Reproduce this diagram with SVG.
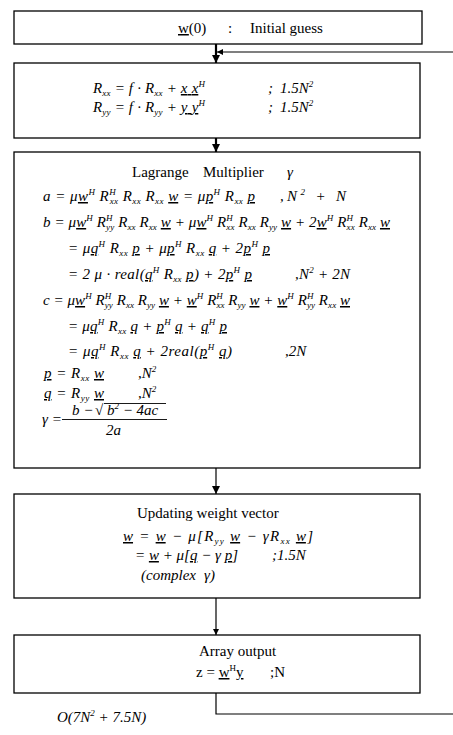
<svg xmlns="http://www.w3.org/2000/svg" width="453" height="735" viewBox="0 0 453 735">
<style>
text{font-family:"Liberation Serif","Times New Roman",serif;font-size:14px;fill:#000}
.m{font-style:italic;font-size:15px}
.n{font-size:15px}
.u{text-decoration:underline}
.sp{font-size:9px;baseline-shift:6px}
.sb{font-size:9px;baseline-shift:-3px}
.box{fill:#fff;stroke:#000;stroke-width:1.3}
.ln{fill:none;stroke:#000;stroke-width:1.2}
.bold{fill:none;stroke:#000;stroke-width:2.2}
.th{fill:none;stroke:#000;stroke-width:0.9}
</style>
<defs>
<marker id="ah" viewBox="0 0 10 10" refX="10" refY="5" markerWidth="8" markerHeight="8" orient="auto" markerUnits="userSpaceOnUse"><path d="M0,0L10,5L0,10z" fill="#000"/></marker>
<marker id="ahs" viewBox="0 0 10 10" refX="10" refY="5" markerWidth="6" markerHeight="6" orient="auto" markerUnits="userSpaceOnUse"><path d="M0,0L10,5L0,10z" fill="#000"/></marker>
</defs>
<g id="connectors">
<line class="bold" x1="216" y1="44" x2="216" y2="63" marker-end="url(#ah)"/>
<line class="ln" x1="453" y1="52" x2="217" y2="52" marker-end="url(#ahs)"/>
<line class="bold" x1="216" y1="138" x2="216" y2="152" marker-end="url(#ah)"/>
<line class="ln" x1="216" y1="468" x2="216" y2="494" marker-end="url(#ah)"/>
<line class="ln" x1="216" y1="598" x2="216" y2="635" marker-end="url(#ahs)"/>
<polyline class="ln" points="216,693 216,714 453,714"/>
</g>
<g id="n1">
<rect class="box" x="14" y="11" width="408" height="33"/>
<text class="n" x="178" y="33"><tspan class="u">w</tspan>(0)<tspan x="228">:</tspan><tspan x="250">Initial guess</tspan></text>
</g>
<g id="n2">
<rect class="box" x="14" y="63" width="406" height="75"/>
<text class="m" x="93" y="93" textLength="112" lengthAdjust="spacing">R<tspan class="sb">xx</tspan> = f · R<tspan class="sb">xx</tspan> + <tspan class="u">x x</tspan><tspan class="sp">H</tspan></text>
<text class="m" x="268" y="93">;</text>
<text class="m" x="280" y="93">1.5N<tspan class="sp">2</tspan></text>
<text class="m" x="93" y="112" textLength="112" lengthAdjust="spacing">R<tspan class="sb">yy</tspan> = f · R<tspan class="sb">yy</tspan> + <tspan class="u">y y</tspan><tspan class="sp">H</tspan></text>
<text class="m" x="268" y="112">;</text>
<text class="m" x="280" y="112">1.5N<tspan class="sp">2</tspan></text>
</g>
<g id="n3">
<rect class="box" x="14" y="152" width="406" height="316"/>
<text class="n" x="132" y="177">Lagrange<tspan x="203">Multiplier</tspan><tspan x="287" class="m">γ</tspan></text>
<text class="m" x="43" y="201" textLength="212" lengthAdjust="spacing">a = μ<tspan class="u">w</tspan><tspan class="sp">H</tspan> R<tspan class="sp">H</tspan><tspan class="sb" dx="-6.5">xx</tspan> R<tspan class="sb">xx</tspan> R<tspan class="sb">xx</tspan> <tspan class="u">w</tspan> = μ<tspan class="u">p</tspan><tspan class="sp">H</tspan> R<tspan class="sb">xx</tspan> <tspan class="u">p</tspan></text>
<text class="m" x="280" y="201" textLength="66" lengthAdjust="spacing">,N<tspan class="sp">2</tspan> + N</text>
<text class="m" x="43" y="227" textLength="347" lengthAdjust="spacing">b = μ<tspan class="u">w</tspan><tspan class="sp">H</tspan> R<tspan class="sp">H</tspan><tspan class="sb" dx="-6.5">yy</tspan> R<tspan class="sb">xx</tspan> R<tspan class="sb">xx</tspan> <tspan class="u">w</tspan> + μ<tspan class="u">w</tspan><tspan class="sp">H</tspan> R<tspan class="sp">H</tspan><tspan class="sb" dx="-6.5">xx</tspan> R<tspan class="sb">xx</tspan> R<tspan class="sb">yy</tspan> <tspan class="u">w</tspan> + 2<tspan class="u">w</tspan><tspan class="sp">H</tspan> R<tspan class="sp">H</tspan><tspan class="sb" dx="-6.5">xx</tspan> R<tspan class="sb">xx</tspan> <tspan class="u">w</tspan></text>
<text class="m" x="68" y="253" textLength="202" lengthAdjust="spacing">= μ<tspan class="u">q</tspan><tspan class="sp">H</tspan> R<tspan class="sb">xx</tspan> <tspan class="u">p</tspan> + μ<tspan class="u">p</tspan><tspan class="sp">H</tspan> R<tspan class="sb">xx</tspan> <tspan class="u">q</tspan> + 2<tspan class="u">p</tspan><tspan class="sp">H</tspan> <tspan class="u">p</tspan></text>
<text class="m" x="68" y="279" textLength="184" lengthAdjust="spacing">= 2 μ · real(<tspan class="u">q</tspan><tspan class="sp">H</tspan> R<tspan class="sb">xx</tspan> <tspan class="u">p</tspan>) + 2<tspan class="u">p</tspan><tspan class="sp">H</tspan> <tspan class="u">p</tspan></text>
<text class="m" x="295" y="279" textLength="55" lengthAdjust="spacing">,N<tspan class="sp">2</tspan> + 2N</text>
<text class="m" x="43" y="305" textLength="307" lengthAdjust="spacing">c = μ<tspan class="u">w</tspan><tspan class="sp">H</tspan> R<tspan class="sp">H</tspan><tspan class="sb" dx="-6.5">yy</tspan> R<tspan class="sb">xx</tspan> R<tspan class="sb">yy</tspan> <tspan class="u">w</tspan> + <tspan class="u">w</tspan><tspan class="sp">H</tspan> R<tspan class="sp">H</tspan><tspan class="sb" dx="-6.5">xx</tspan> R<tspan class="sb">yy</tspan> <tspan class="u">w</tspan> + <tspan class="u">w</tspan><tspan class="sp">H</tspan> R<tspan class="sp">H</tspan><tspan class="sb" dx="-6.5">yy</tspan> R<tspan class="sb">xx</tspan> <tspan class="u">w</tspan></text>
<text class="m" x="68" y="331" textLength="159" lengthAdjust="spacing">= μ<tspan class="u">q</tspan><tspan class="sp">H</tspan> R<tspan class="sb">xx</tspan> <tspan class="u">q</tspan> + <tspan class="u">p</tspan><tspan class="sp">H</tspan> <tspan class="u">q</tspan> + <tspan class="u">q</tspan><tspan class="sp">H</tspan> <tspan class="u">p</tspan></text>
<text class="m" x="68" y="356" textLength="164" lengthAdjust="spacing">= μ<tspan class="u">q</tspan><tspan class="sp">H</tspan> R<tspan class="sb">xx</tspan> <tspan class="u">q</tspan> + 2real(<tspan class="u">p</tspan><tspan class="sp">H</tspan> <tspan class="u">q</tspan>)</text>
<text class="m" x="285" y="356">,2N</text>
<text class="m" x="44" y="378" textLength="60" lengthAdjust="spacing"><tspan class="u">p</tspan> = R<tspan class="sb">xx</tspan> <tspan class="u">w</tspan></text>
<text class="m" x="138" y="378">,N<tspan class="sp">2</tspan></text>
<text class="m" x="44" y="398" textLength="60" lengthAdjust="spacing"><tspan class="u">q</tspan> = R<tspan class="sb">yy</tspan> <tspan class="u">w</tspan></text>
<text class="m" x="138" y="398">,N<tspan class="sp">2</tspan></text>
<text class="m" x="42" y="424">γ =</text>
<text class="m" x="72" y="415">b −</text>
<text class="n" x="95" y="415">√</text>
<text class="m" x="107" y="415">b<tspan class="sp">2</tspan> − 4ac</text>
<line class="th" x1="104" y1="403.5" x2="166" y2="403.5"/>
<line class="th" x1="62" y1="419.5" x2="167" y2="419.5"/>
<text class="m" x="106" y="435">2a</text>
</g>
<g id="n4">
<rect class="box" x="14" y="494" width="406" height="104"/>
<text class="n" x="137" y="518">Updating weight vector</text>
<text class="m" x="123" y="541" textLength="190" lengthAdjust="spacing"><tspan class="u">w</tspan> = <tspan class="u">w</tspan> − μ[R<tspan class="sb">yy</tspan> <tspan class="u">w</tspan> − γR<tspan class="sb">xx</tspan> <tspan class="u">w</tspan>]</text>
<text class="m" x="135" y="560">= <tspan class="u">w</tspan> + μ[<tspan class="u">q</tspan> − γ <tspan class="u">p</tspan>]</text>
<text class="m" x="272" y="560">;1.5N</text>
<text class="m" x="141" y="580">(complex</text>
<text class="m" x="204" y="580">γ)</text>
</g>
<g id="n5">
<rect class="box" x="14" y="635" width="406" height="58"/>
<text class="n" x="199" y="656">Array output</text>
<text class="n" x="196" y="677">z = <tspan class="u">w</tspan><tspan class="sp">H</tspan><tspan class="u">y</tspan><tspan x="270">;N</tspan></text>
</g>
<text class="m" x="57" y="722">O(7N<tspan class="sp">2</tspan> + 7.5N)</text>
</svg>
